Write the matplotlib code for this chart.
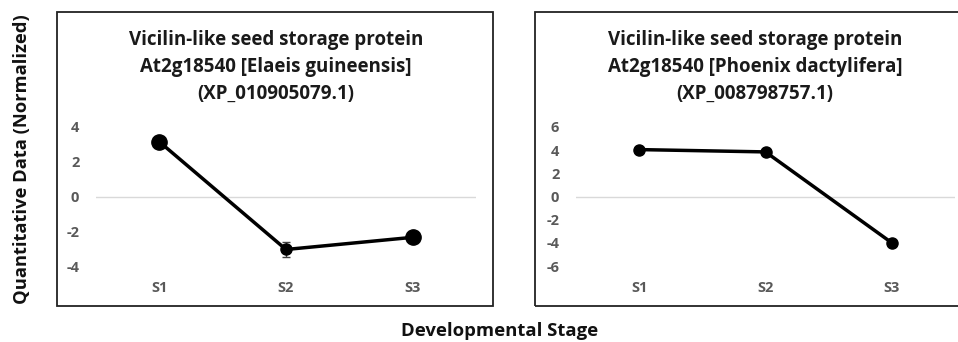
import matplotlib.pyplot as plt
from matplotlib.patches import Rectangle

stages = ["S1", "S2", "S3"]

# Elaeis guineensis
eg_values = [3.15, -3.05, -2.35]
eg_err = [0.1, 0.45, 0.2]
eg_ticks = [-4, -2, 0, 2, 4]
eg_title = "Vicilin-like seed storage protein\nAt2g18540 [Elaeis guineensis]\n(XP_010905079.1)"

# Phoenix dactylifera
pd_values = [4.05, 3.85, -4.0]
pd_err = [0.1, 0.15, 0.2]
pd_ticks = [-6, -4, -2, 0, 2, 4, 6]
pd_title = "Vicilin-like seed storage protein\nAt2g18540 [Phoenix dactylifera]\n(XP_008798757.1)"

plt.rcParams['font.family'] = ['Open Sans', 'DejaVu Sans']
plt.rcParams['axes.unicode_minus'] = False

W, H = 958, 342
fig = plt.figure(figsize=(W / 100, H / 100), dpi=100)

def px(x0, y0, x1, y1):
    # pixel box (top-left origin) -> figure fraction rect
    return [x0 / W, 1 - y1 / H, (x1 - x0) / W, (y1 - y0) / H]

# chart area borders
for x0, x1 in [(57, 493), (535, 962)]:
    fig.patches.append(Rectangle((x0 / W, 1 - 306 / H), (x1 - x0) / W, (306 - 12) / H,
                                 transform=fig.transFigure, fill=False,
                                 edgecolor="#222222", linewidth=1.3))

panels = [
    (px(96, 127, 476, 266), eg_values, eg_err, eg_ticks, eg_title, (-4, 4), [11, 8, 11], 276),
    (px(576, 127, 955, 266), pd_values, pd_err, pd_ticks, pd_title, (-6, 6), [8, 8, 8], 755),
]

for rect, vals, err, ticks, title, ylim, msizes, tx in panels:
    ax = fig.add_axes(rect)
    x = list(range(len(stages)))
    ax.errorbar(x, vals, yerr=err, color="black", linewidth=2.5, capsize=3,
                elinewidth=1, ecolor="#404040", zorder=3, clip_on=False)
    for xi, v, ms in zip(x, vals, msizes):
        ax.plot(xi, v, "o", color="black", markersize=ms, zorder=4, clip_on=False)
    ax.axhline(0, color="#d9d9d9", linewidth=1, zorder=1)
    ax.set_xlim(-0.5, 2.5)
    ax.set_ylim(*ylim)
    ax.set_yticks(ticks)
    ax.set_xticks(x)
    ax.set_xticklabels(stages)
    ax.tick_params(length=0, colors="#595959", labelsize=10.5)
    ax.tick_params(axis="y", pad=12)
    ax.tick_params(axis="x", pad=11)
    for lab in ax.get_xticklabels() + ax.get_yticklabels():
        lab.set_fontweight("bold")
    for s in ax.spines.values():
        s.set_visible(False)
    ax.patch.set_alpha(0)
    fig.text(tx / W, 1 - 67 / H, title, ha="center", va="center", fontsize=13.5,
             fontweight="bold", color="#1a1a1a", linespacing=1.45)

fig.text(22 / W, 1 - 159 / H, "Quantitative Data (Normalized)", rotation=90,
         ha="center", va="center", fontsize=13.2, fontweight="bold", color="#111111")
fig.text(500 / W, 1 - 331 / H, "Developmental Stage", ha="center", va="center",
         fontsize=13.3, fontweight="bold", color="#111111")

fig.savefig("out.png", dpi=100)
